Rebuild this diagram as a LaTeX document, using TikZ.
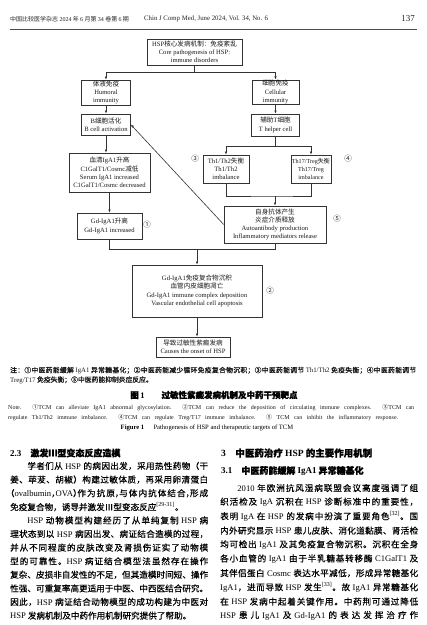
\documentclass[tikz,border=0pt]{standalone}
\usepackage{fontspec}
\setmainfont{Liberation Serif}
\newfontfamily\cjk{Noto Sans CJK SC}
\newfontfamily\cjkm[FakeBold=0.4]{Noto Sans CJK SC}
\newfontfamily\cjkb[FakeBold=1.2]{Noto Sans CJK SC}
\usepackage{xcolor}
\usepackage{tikz}
\usetikzlibrary{arrows.meta,positioning}
% glue between CJK characters, for justified lines
\newXeTeXintercharclass\zhcls
\newcount\zhc
\newcommand{\setzhclass}[2]{\zhc=#1\relax\loop\XeTeXcharclass\zhc=\zhcls\ifnum\zhc<#2\advance\zhc by 1\repeat}
\setzhclass{"3000}{"303F}
\setzhclass{"4E00}{"9FFF}
\setzhclass{"FF00}{"FFEF}
\setzhclass{"2460}{"2473}
\setzhclass{"2160}{"216F}
\XeTeXinterchartoks\zhcls\zhcls={\hskip 0pt plus 4pt\relax}
\newcommand{\en}[1]{{\rmfamily #1}}
\newcommand{\punl}[1]{\makebox[0.5em][l]{#1}}
\newcommand{\punr}[1]{\makebox[0.5em][r]{#1}}
\newcommand{\bline}[1]{\hbox to 198pt{\XeTeXinterchartokenstate=1\spaceskip=2.4pt plus 0.8pt minus 0.2pt\relax #1}}
\newcommand{\nline}[1]{\hbox to 406pt{\XeTeXinterchartokenstate=1\relax #1}}
\newcommand{\eline}[2]{\hbox to #1{#2}}

\begin{document}
\begin{tikzpicture}[x=1pt,y=-1pt,
  box/.style={draw=black!80,line width=0.6pt,align=center,inner sep=0.5pt,text=black!90,font=\fontsize{6.6}{8.2}\selectfont},
  arr/.style={draw=black!80,line width=0.6pt,-{Latex[length=3.2pt,width=2.6pt]}},
  ln/.style={draw=black!80,line width=0.6pt},
  num/.style={inner sep=0,text=black!85,font=\cjk\fontsize{7.5}{7.5}\selectfont},
  bodyl/.style={anchor=west,inner sep=0,text=black,font=\cjkm\fontsize{8.6}{10}\selectfont},
  headl/.style={anchor=west,inner sep=0,text=black,font=\cjkb\bfseries\fontsize{9}{10}\selectfont},
  notel/.style={anchor=west,inner sep=0,text=black!90,font=\cjkb\fontsize{6.8}{8}\selectfont},
  capl/.style={anchor=west,inner sep=0,text=black!90,font=\fontsize{6}{7}\selectfont}]
\fill[white] (0,0) rectangle (427,625);
\useasboundingbox (0,0) rectangle (427,625);

% running head
\node[anchor=west,inner sep=0,text=black!85,font=\cjk\fontsize{6}{6}\selectfont] (jname) at (10,19) {中国比较医学杂志 \en{2024} 年 \en{6} 月第 \en{34} 卷第 \en{6} 期};
\node[anchor=west,inner sep=0,text=black!85,font=\fontsize{6.8}{7}\selectfont] (jnameen) at (144,19) {Chin J Comp Med, June 2024, Vol. 34, No. 6};
\node[inner sep=0,text=black!85,font=\fontsize{9}{9}\selectfont] (pageno) at (408,19) {137};
\draw[draw=black!70,line width=0.8pt] (10,29) -- (417,29);

% figure boxes
\node[box,minimum width=95pt,minimum height=26pt] (core) at (194.5,52) {HSP{\cjk 核心发病机制：免疫紊乱}\\Core pathogenesis of HSP:\\immune disorders};
\node[box,minimum width=49pt,minimum height=25pt] (humoral) at (106,92.5) {{\cjk 体液免疫}\\Humoral\\immunity};
\node[box,minimum width=47pt,minimum height=24pt] (cellular) at (275.5,92) {{\cjk 细胞免疫}\\Cellular\\immunity};
\node[box,minimum width=49pt,minimum height=21pt] (bcell) at (106,124.5) {B{\cjk 细胞活化}\\B cell activation};
\node[box,minimum width=81pt,minimum height=39pt] (serum) at (109.5,172.5) {{\cjk 血清}IgA1{\cjk 升高}\\C1GalT1/Cosmc{\cjk 减低}\\Serum IgA1 increased\\C1GalT1/Cosmc decreased};
\node[box,minimum width=65pt,minimum height=26pt] (gdiga) at (109.5,226) {Gd-IgA1{\cjk 升高}\\Gd-IgA1 increased};
\node[box,minimum width=48pt,minimum height=22pt] (thelper) at (275.5,125) {{\cjk 辅助}T{\cjk 细胞}\\T helper cell};
\node[box,minimum width=46pt,minimum height=28pt] (thone) at (226,169) {Th1/Th2{\cjk 失衡}\\Th1/Th2\\imbalance};
\node[box,minimum width=40pt,minimum height=28pt,font=\fontsize{6.1}{8.2}\selectfont] (thseventeen) at (311,169) {Th17/Treg{\cjk 失衡}\\Th17/Treg\\imbalance};
\node[box,minimum width=102pt,minimum height=37pt] (autoab) at (275,224.5) {{\cjk 自身抗体产生}\\{\cjk 炎症介质释放}\\Autoantibody production\\Inflammatory mediators release};
\node[box,minimum width=130pt,minimum height=52pt] (depo) at (197,291) {Gd-IgA1{\cjk 免疫复合物沉积}\\{\cjk 血管内皮细胞凋亡}\\Gd-IgA1 immune complex deposition\\Vascular endothelial cell apoptosis};
\node[box,minimum width=74pt,minimum height=20pt] (onset) at (193,347) {{\cjk 导致过敏性紫癜发病}\\Causes the onset of HSP};

% target marks
\node[num] (one) at (147,225) {①};
\node[num] (two) at (270,291) {②};
\node[num] (three) at (195,159) {③};
\node[num] (four) at (348,159) {④};
\node[num] (five) at (337,219) {⑤};

% connectors
\coordinate (jtop) at (194.5,72.5);
\coordinate (jth) at (275.5,146);
\coordinate (jmid) at (275,196);
\coordinate (jlow) at (197,249);
\draw[ln] (core) -- (jtop);
\draw[arr] (jtop) -| (humoral);
\draw[arr] (jtop) -| (cellular);
\draw[arr] (humoral) -- (bcell);
\draw[arr] (bcell) -- (bcell |- serum.north);
\draw[arr] (serum) -- (gdiga);
\draw[arr] (cellular) -- (thelper);
\draw[ln] (thelper) -- (jth);
\draw[arr] (jth) -| (thone);
\draw[arr] (jth) -| (thseventeen);
\draw[ln] (thone.south) |- (jmid) -| (thseventeen.south);
\draw[arr] (jmid) -- (autoab);
\draw[arr] (autoab.west) -- (bcell.east);
\draw[ln] (gdiga.south) |- (jlow);
\draw[ln] (autoab.south) |- (jlow);
\draw[arr] (jlow) -- (depo);
\draw[arr] (depo.south) -- (depo.south |- onset.north);

% notes and caption
\node[notel] (notezh1) at (10,370.5) {\nline{注：①中医药能缓解 \en{IgA1} 异常糖基化；②中医药能减少循环免疫复合物沉积；③中医药能调节 \en{Th1/Th2} 免疫失衡；④中医药能调节}};
\node[notel] (notezh2) at (10,380) {\en{Treg/T17} 免疫失衡；⑤中医药能抑制炎症反应。};
\node[inner sep=0,text=black,font=\cjkb\bfseries\fontsize{8.5}{8.5}\selectfont] (titlezh) at (214,395) {图\,\en{1}\hskip 2em 过敏性紫癜发病机制及中药干预靶点};
\node[capl] (noteen1) at (8,408) {\eline{406pt}{Note. {\cjk ①}TCM can alleviate IgA1 abnormal glycosylation. {\cjk ②}TCM can reduce the deposition of circulating immune complexes. {\cjk ③}TCM can}};
\node[capl] (noteen2) at (8,418) {\eline{390pt}{regulate Th1/Th2 immune imbalance. {\cjk ④}TCM can regulate Treg/T17 immune imbalance. {\cjk ⑤} TCM can inhibit the inflammatory response.}};
\node[inner sep=0,text=black,font=\fontsize{6.6}{7}\selectfont] (titleen) at (207,428) {\textbf{Figure 1}\hskip 1.4em Pathogenesis of HSP and therapeutic targets of TCM};

% left column
\node[headl] (l0) at (10,453) {\en{2.3}\hskip 1em 激发Ⅲ型变态反应造模};
\node[bodyl] (l1) at (10,466) {\bline{\hskip 2em 学者们从 \en{HSP} 的病因出发，采用热性药物（干}};
\node[bodyl] (l2) at (10,479.6) {\bline{姜、荜茇、胡椒）构建过敏体质，再采用卵清蛋白}};
\node[bodyl] (l3) at (10,493.2) {\bline{\punr{（}\en{ovalbumin}\punl{，}\en{OVA}\punl{）}作为抗原\punl{，}与体内抗体结合\punl{，}形成}};
\node[bodyl] (l4) at (10,506.8) {免疫复合物，诱导并激发Ⅲ型变态反应\en{\textsuperscript{[29-31]}}。};
\node[bodyl] (l5) at (10,520.4) {\bline{\hskip 2em\en{HSP} 动物模型构建经历了从单纯复制 \en{HSP} 病}};
\node[bodyl] (l6) at (10,534) {\bline{理状态到以 \en{HSP} 病因出发、病证结合造模的过程，}};
\node[bodyl] (l7) at (10,547.6) {\bline{并从不同程度的皮肤改变及肾损伤证实了动物模}};
\node[bodyl] (l8) at (10,561.2) {\bline{型的可靠性。\en{HSP} 病证结合模型法虽然存在操作}};
\node[bodyl] (l9) at (10,574.8) {\bline{复杂、皮损非自发性的不足，但其造模时间短、操作}};
\node[bodyl] (l10) at (10,588.4) {\bline{性强、可重复率高更适用于中医、中西医结合研究。}};
\node[bodyl] (l11) at (10,602) {\bline{因此，\en{HSP} 病证结合动物模型的成功构建为中医对}};
\node[bodyl] (l12) at (10,615.6) {\en{HSP} 发病机制及中药作用机制研究提供了帮助。};

% right column
\node[headl,font=\cjkb\bfseries\fontsize{9.5}{10}\selectfont] (r0) at (221,453) {\en{3}\hskip 1em 中医药治疗 \en{HSP} 的主要作用机制};
\node[headl] (r1) at (221,471) {\en{3.1}\hskip 1em 中医药能缓解 \en{IgA1} 异常糖基化};
\node[bodyl] (r2) at (220,488) {\bline{\hskip 2em\en{2010} 年欧洲抗风湿病联盟会议高度强调了组}};
\node[bodyl] (r3) at (220,502.2) {\bline{织活检及 \en{IgA} 沉积在 \en{HSP} 诊断标准中的重要性，}};
\node[bodyl] (r4) at (220,516.4) {\bline{表明 \en{IgA} 在 \en{HSP} 的发病中扮演了重要角色\en{\textsuperscript{[32]}}。国}};
\node[bodyl] (r5) at (220,530.6) {\bline{内外研究显示 \en{HSP} 患儿皮肤、消化道黏膜、肾活检}};
\node[bodyl] (r6) at (220,544.8) {\bline{均可检出 \en{IgA1} 及其免疫复合物沉积。沉积在全身}};
\node[bodyl] (r7) at (220,559) {\bline{各小血管的 \en{IgA1} 由于半乳糖基转移酶 \en{C1GalT1} 及}};
\node[bodyl] (r8) at (220,573.2) {\bline{其伴侣蛋白 \en{Cosmc} 表达水平减低，形成异常糖基化}};
\node[bodyl] (r9) at (220,587.4) {\bline{\en{IgA1}，进而导致 \en{HSP} 发生\en{\textsuperscript{[33]}}。故 \en{IgA1} 异常糖基化}};
\node[bodyl] (r10) at (220,601.6) {\bline{在 \en{HSP} 发病中起着关键作用。中药荆可通过降低}};
\node[bodyl] (r11) at (220,615.6) {\bline{\en{HSP} 患儿 \en{IgA1} 及 \en{Gd-IgA1} 的表达发挥治疗作}};
\end{tikzpicture}
\end{document}
